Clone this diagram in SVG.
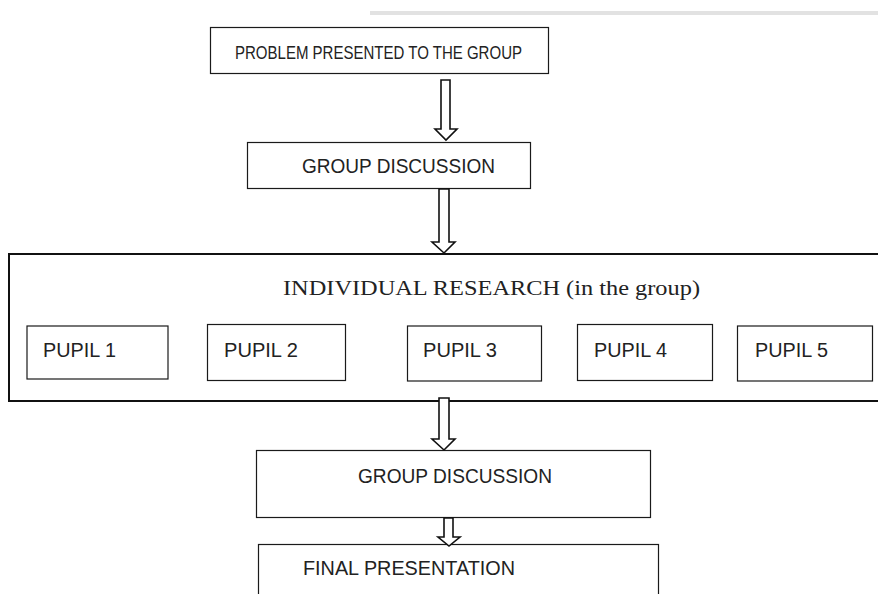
<svg xmlns="http://www.w3.org/2000/svg" width="878" height="594" viewBox="0 0 878 594">
<style>
.bg{fill:#ffffff}
.box{fill:#ffffff;stroke:#1a1a1a;stroke-width:1.2}
.big{fill:#ffffff;stroke:#111111;stroke-width:2}
.arr{fill:#ffffff;stroke:#111111;stroke-width:1.6;stroke-linejoin:miter}
.t{font-family:"Liberation Sans","Open Sans",Arial,sans-serif;font-size:20px;fill:#222222}
.s{font-family:"Liberation Serif","Times New Roman",serif;font-size:21px;fill:#222222}
</style>
<rect class="bg" x="0" y="0" width="878" height="594"/>
<rect x="370" y="11" width="508" height="4" fill="#e2e2e2"/>

<g id="n-problem">
<rect class="box" x="210.5" y="27.5" width="338" height="46"/>
<text class="t" x="235" y="59" style="font-size:19px" textLength="287" lengthAdjust="spacingAndGlyphs">PROBLEM PRESENTED TO THE GROUP</text>
</g>

<g id="n-discussion1">
<rect class="box" x="247.5" y="142.5" width="283" height="46"/>
<text class="t" x="302" y="173" textLength="193" lengthAdjust="spacingAndGlyphs">GROUP DISCUSSION</text>
</g>

<g id="n-research">
<rect class="big" x="9" y="254" width="880" height="147"/>
<text class="s" x="283" y="295" textLength="417" lengthAdjust="spacingAndGlyphs">INDIVIDUAL RESEARCH (in the group)</text>
</g>

<g id="n-pupil1">
<rect class="box" x="27" y="326" width="141" height="53"/>
<text class="t" x="43" y="357" textLength="73" lengthAdjust="spacingAndGlyphs">PUPIL 1</text>
</g>
<g id="n-pupil2">
<rect class="box" x="207.5" y="324.5" width="138" height="56"/>
<text class="t" x="224" y="357" textLength="74" lengthAdjust="spacingAndGlyphs">PUPIL 2</text>
</g>
<g id="n-pupil3">
<rect class="box" x="407.5" y="326" width="134" height="55"/>
<text class="t" x="423" y="357" textLength="74" lengthAdjust="spacingAndGlyphs">PUPIL 3</text>
</g>
<g id="n-pupil4">
<rect class="box" x="577.5" y="324.5" width="135" height="56"/>
<text class="t" x="594" y="357" textLength="73" lengthAdjust="spacingAndGlyphs">PUPIL 4</text>
</g>
<g id="n-pupil5">
<rect class="box" x="737.5" y="326" width="135" height="55"/>
<text class="t" x="755" y="357" textLength="73" lengthAdjust="spacingAndGlyphs">PUPIL 5</text>
</g>

<g id="n-discussion2">
<rect class="box" x="256.5" y="450.5" width="394" height="67"/>
<text class="t" x="358" y="483" textLength="194" lengthAdjust="spacingAndGlyphs">GROUP DISCUSSION</text>
</g>

<g id="n-final">
<rect class="box" x="258.5" y="544.5" width="400" height="60"/>
<text class="t" x="303" y="575" textLength="212" lengthAdjust="spacingAndGlyphs">FINAL PRESENTATION</text>
</g>

<g id="connectors">
<path class="arr" d="M441,80 H450 V129 H457 L446,140 L435,129 H441 Z"/>
<path class="arr" d="M439,189 H449 V242 H455 L444,253 L432,242 H439 Z"/>
<path class="arr" d="M439,398 H449 V439 H455 L444,450 L432,439 H439 Z"/>
<path class="arr" d="M444,518 H453 V537 H460 L449,546 L438,537 H444 Z"/>
</g>
</svg>
